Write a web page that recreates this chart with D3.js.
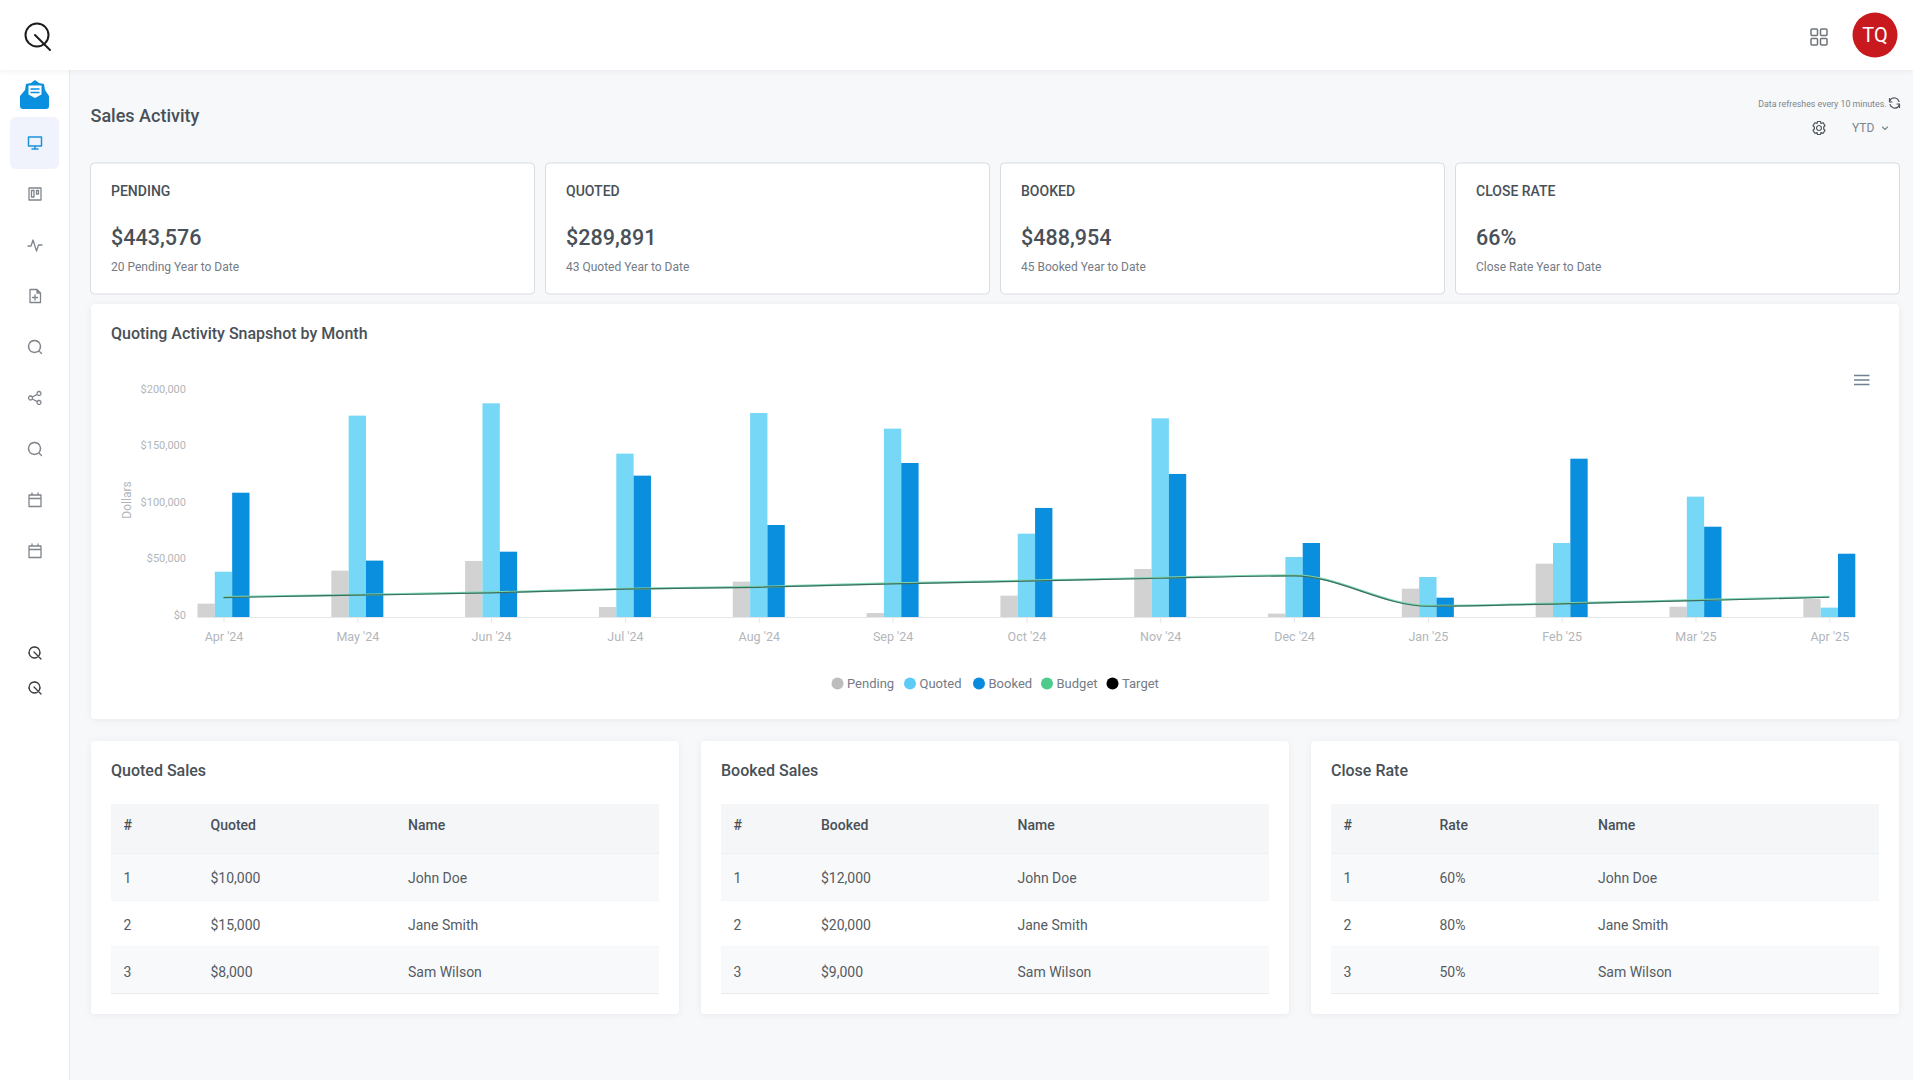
<!DOCTYPE html>
<html>
<head>
<meta charset="utf-8">
<title>Sales Activity</title>
<script src="https://cdn.jsdelivr.net/npm/d3@7"></script>
<style>
    html, body { margin: 0; padding: 0; background: #f6f8fa; overflow: hidden; }
    svg { display: block; font-family: Roboto, sans-serif; }
    .card-shadow { filter: drop-shadow(0 1px 3px rgba(60, 70, 90, 0.08)); }
    .axis path, .axis line { stroke: #e4e7ea; }
    .axis text { fill: #b2b6ba; font-family: Roboto, sans-serif; font-size: 11px; font-weight: 400; }
    .x-axis text { font-size: 12.5px; }
</style>
</head>
<body>
<svg id="page" width="1913" height="1080"></svg>
<script>
const months = ["Apr '24", "May '24", "Jun '24", "Jul '24", "Aug '24", "Sep '24", "Oct '24", "Nov '24", "Dec '24", "Jan '25", "Feb '25", "Mar '25", "Apr '25"];
const pending = [11800, 41000, 49600, 8850, 31300, 3500, 18900, 42500, 3000, 25100, 47200, 9100, 15900];
const quoted = [40100, 178200, 189100, 144600, 180500, 166700, 73750, 175800, 53100, 35400, 65500, 106500, 8300];
const booked = [110000, 49900, 57800, 125100, 81400, 136300, 96500, 126600, 65500, 17100, 140100, 79900, 56000];
const budget = [17700, 19800, 21800, 25100, 26800, 29800, 32200, 34800, 36900, 10000, 12100, 15000, 18000];
const target = [17200, 19300, 21300, 24600, 26300, 29300, 31700, 34300, 36400, 9500, 11600, 14500, 17500];
const yTicks = [0, 50000, 100000, 150000, 200000];

const barSeries = ["Pending", "Quoted", "Booked"];
const legendNames = ["Pending", "Quoted", "Booked", "Budget", "Target"];

const kpiTitles = ["PENDING", "QUOTED", "BOOKED", "CLOSE RATE"];
const kpiValues = ["$443,576", "$289,891", "$488,954", "66%"];
const kpiNotes = ["20 Pending Year to Date", "43 Quoted Year to Date", "45 Booked Year to Date", "Close Rate Year to Date"];

const rowNames = ["John Doe", "Jane Smith", "Sam Wilson"];
const quotedSales = ["$10,000", "$15,000", "$8,000"];
const bookedSales = ["$12,000", "$20,000", "$9,000"];
const closeRates = ["60%", "80%", "50%"];

const barColor = d3.scaleOrdinal().domain(barSeries).range(["#d2d2d2", "#76d7f7", "#0a8fde"]);
const legendColor = d3.scaleOrdinal().domain(legendNames).range(["#bdbdbd", "#5ccbf5", "#078bdd", "#4dcb8c", "#000000"]);

const svg = d3.select("#page");
const textDark = "#495057";
const textBody = "#555b63";
const textMuted = "#747b86";
const iconGrey = "#80858c";

function addText(elem, x, y, str, size, weight, fill, anchor = "start") {
    return elem.append("text")
        .attr("x", x)
        .attr("y", y)
        .attr("dy", "0.35em")
        .attr("text-anchor", anchor)
        .style("font-size", size + "px")
        .style("font-weight", weight)
        .style("fill", fill)
        .text(str);
}

function addCard(x, y, w, h, bordered) {
    svg.append("rect")
        .attr("class", bordered ? null : "card-shadow")
        .attr("x", x).attr("y", y)
        .attr("width", w).attr("height", h)
        .attr("rx", 4)
        .attr("fill", "#fff")
        .attr("stroke", bordered ? "#d9dce0" : "none");
}

// Icons are stroked paths in a 16x16 box centred on cx, cy
function addIcon(cx, cy, d, color = iconGrey, width = 1.3) {
    svg.append("path")
        .attr("transform", `translate(${cx - 8},${cy - 8})`)
        .attr("d", d)
        .attr("fill", "none")
        .attr("stroke", color)
        .attr("stroke-width", width)
        .attr("stroke-linecap", "round")
        .attr("stroke-linejoin", "round");
}

function drawChrome() {
    svg.append("rect").attr("width", 1913).attr("height", 1080).attr("fill", "#f6f8fa");

    svg.append("rect").attr("x", 0).attr("y", 0).attr("width", 69).attr("height", 1080).attr("fill", "#fff");
    svg.append("line").attr("x1", 69.5).attr("x2", 69.5).attr("y1", 70).attr("y2", 1080).attr("stroke", "#e9ecef");

    svg.append("rect").attr("class", "card-shadow").attr("width", 1913).attr("height", 70).attr("fill", "#fff");

    // logo
    svg.append("circle").attr("cx", 37).attr("cy", 35).attr("r", 11.5)
        .attr("fill", "none").attr("stroke", "#1c1c1f").attr("stroke-width", 2);
    svg.append("line").attr("x1", 35).attr("y1", 35).attr("x2", 50).attr("y2", 50)
        .attr("stroke", "#1c1c1f").attr("stroke-width", 2).attr("stroke-linecap", "round");

    // mail icon
    svg.append("path")
        .attr("d", "M20 96 L25 90 L26 84 L31 83 L35 80 L39 83 L44 84 L45 90 L49 96 L49 106 Q49 109 46 109 L23 109 Q20 109 20 106 Z")
        .attr("fill", "#0b8fdf");
    svg.append("path").attr("d", "M28.5 85.5 L41.5 85.5 L41.5 94.5 L35 98 L28.5 94.5 Z").attr("fill", "#fff");
    svg.append("path").attr("d", "M30.5 89 L39.5 89 M30.5 92.5 L39.5 92.5").attr("stroke", "#0b8fdf").attr("stroke-width", 1.5);

    svg.append("rect").attr("x", 10).attr("y", 117).attr("width", 49).attr("height", 52).attr("rx", 6).attr("fill", "#f1f3fc");

    const search = "M7.5 1.5 a6 6 0 1 0 0.01 0 M12 12 L14.5 14.5";
    const qMark = "M7.5 2 a5.5 5.5 0 1 0 0.01 0 M7 7 L14 14";
    const calendar = "M2 3 H14 V14.5 H2 Z M2 6.5 H14 M5 1 V3 M11 1 V3";
    addIcon(35, 143, "M1.5 2 H14.5 V11 H1.5 Z M8 11 V14 M5 14 H11", "#1b93dc", 1.5);
    addIcon(35, 194, "M2 2 H14 V14 H2 Z M4.5 4.5 H7 V11 H4.5 Z M9.5 4.5 H11.5 V8 H9.5 Z");
    addIcon(35, 245, "M1 9 H4 L6 3 L9.5 14 L11.5 8 H15");
    addIcon(35, 296, "M3 1.5 H10 L13.5 5 V14.5 H3 Z M10 1.5 V5 H13.5 M8 7 V12 M5.5 9.5 H10.5");
    addIcon(35, 347, search);
    addIcon(35, 398, "M5.3 7 L10.2 4.4 M5.3 9 L10.2 11.6 M3.5 6 a2 2 0 1 0 0.01 0 M12 1.5 a2 2 0 1 0 0.01 0 M12 10.5 a2 2 0 1 0 0.01 0");
    addIcon(35, 449, search);
    addIcon(35, 500, calendar);
    addIcon(35, 551, calendar);
    addIcon(35, 653, qMark, "#3a3d42");
    addIcon(35, 688, qMark, "#3a3d42");

    // top right
    [1811, 1820.5].forEach(x => [29, 38.5].forEach(y => {
        svg.append("rect").attr("x", x).attr("y", y).attr("width", 6.5).attr("height", 6.5).attr("rx", 1)
            .attr("fill", "none").attr("stroke", "#70757c").attr("stroke-width", 1.5);
    }));
    svg.append("circle").attr("cx", 1875).attr("cy", 35).attr("r", 22.5).attr("fill", "#c8191f");
    addText(svg, 1875, 35, "TQ", 20, 400, "#fff", "middle");

    addText(svg, 90.5, 115.5, "Sales Activity", 18, 500, textDark);
    addText(svg, 1886.5, 104, "Data refreshes every 10 minutes.", 8.8, 400, "#7e848c", "end");
    addIcon(1894.5, 103, "M12.5 6.5 A5 5 0 0 0 4 4.5 L3 7 M3.5 9.5 A5 5 0 0 0 12 11.5 L13 9 M3 3.5 V7 H5.5 M13 12.5 V9 H10.5", "#50555c", 1.2);
    addIcon(1819, 128, "M8 5.5 a2.5 2.5 0 1 0 0.01 0 M6.5 1.5 H9.5 L10 3.5 L12 2.7 L14 5.5 L12.7 7 V9 L14 10.5 L12 13.3 L10 12.5 L9.5 14.5 H6.5 L6 12.5 L4 13.3 L2 10.5 L3.3 9 V7 L2 5.5 L4 2.7 L6 3.5 Z", "#50555c", 1.2);
    addText(svg, 1852, 128, "YTD", 12, 400, "#7e848c");
    addIcon(1885, 128, "M5.5 7 L8 9.5 L10.5 7", "#7e848c", 1.1);
}

function drawKpis() {
    const cardX = d3.scaleBand().domain(kpiTitles).range([90.5, 90.5 + 455 * 4]);
    kpiTitles.forEach((title, i) => {
        const x = cardX(title);
        addCard(x, 163, 444, 131, true);
        addText(svg, x + 20.5, 191, title, 14, 500, textDark);
        addText(svg, x + 20.5, 237, kpiValues[i], 21.5, 500, textDark);
        addText(svg, x + 20.5, 267, kpiNotes[i], 12, 400, textMuted);
    });
}

function drawChart() {
    addCard(91, 304, 1808, 415, false);
    addText(svg, 111, 333, "Quoting Activity Snapshot by Month", 16, 500, textDark);

    const x = d3.scalePoint().domain(months).range([223.5, 1829.3]);
    const y = d3.scaleLinear().domain([0, 200000]).range([617, 391]);
    const inner = d3.scaleBand().domain(barSeries).range([-26, 26]);
    const chart = svg.append("g");

    const rows = [pending, quoted, booked];
    barSeries.forEach((name, s) => {
        chart.append("g").selectAll("rect")
            .data(rows[s])
            .join("rect")
            .attr("x", (d, i) => x(months[i]) + inner(name))
            .attr("y", d => y(d))
            .attr("width", inner.bandwidth())
            .attr("height", d => y(0) - y(d))
            .attr("fill", barColor(name));
    });

    chart.append("line")
        .attr("x1", x(months[0]) + inner.range()[0])
        .attr("x2", x(months[months.length - 1]) + inner.range()[1])
        .attr("y1", y(0) + 0.5).attr("y2", y(0) + 0.5)
        .attr("stroke", "#e4e7ea");

    const line = d3.line()
        .x((d, i) => x(months[i]))
        .y(d => y(d))
        .curve(d3.curveMonotoneX);
    chart.append("path").datum(budget).attr("d", line)
        .attr("fill", "none").attr("stroke", "#7ad6ae").attr("stroke-width", 2);
    chart.append("path").datum(target).attr("d", line)
        .attr("fill", "none").attr("stroke", "#3d6e62").attr("stroke-width", 1.2);

    const xAxis = d3.axisBottom(x).tickSize(5).tickPadding(9);
    chart.append("g").attr("class", "axis x-axis")
        .attr("transform", `translate(0,${y(0) + 1})`)
        .call(xAxis)
        .call(g => g.select(".domain").remove());

    const yAxis = d3.axisLeft(y).tickValues(yTicks).tickSize(0).tickPadding(0).tickFormat(d3.format("$,"));
    chart.append("g").attr("class", "axis y-axis")
        .attr("transform", "translate(186,0)")
        .call(yAxis)
        .call(g => g.select(".domain").remove())
        .call(g => g.selectAll("text").attr("dy", "0.12em"));

    chart.append("text")
        .attr("transform", "translate(127,500) rotate(-90)")
        .attr("dy", "0.35em")
        .attr("text-anchor", "middle")
        .style("font-size", "12px").style("font-weight", 400).style("fill", "#b2b6ba")
        .text("Dollars");

    // hamburger
    chart.append("path").attr("d", "M1854 375.5 H1869.5 M1854 380 H1869.5 M1854 384.5 H1869.5")
        .attr("stroke", "#6e8192").attr("stroke-width", 1.6);

    const legendX = [837.5, 910, 979, 1047, 1112.5];
    legendNames.forEach((name, i) => {
        svg.append("circle").attr("cx", legendX[i]).attr("cy", 683.5).attr("r", 6).attr("fill", legendColor(name));
        addText(svg, legendX[i] + 9.5, 683.5, name, 13, 400, textMuted);
    });
}

function drawTable(cardX, cardW, title, header, values, colX) {
    addCard(cardX, 741, cardW, 273, false);
    addText(svg, cardX + 20, 770, title, 16, 500, textDark);

    const tableX = cardX + 20;
    const tableW = cardW - 40;
    const edges = [804, 854, 900.5, 947, 993.5];
    const fills = ["#f4f6f8", "#f8f9fa", "#fff", "#f8f9fa"];
    fills.forEach((fill, i) => {
        svg.append("rect").attr("x", tableX).attr("y", edges[i]).attr("width", tableW)
            .attr("height", edges[i + 1] - edges[i]).attr("fill", fill);
        svg.append("line").attr("x1", tableX).attr("x2", tableX + tableW)
            .attr("y1", edges[i + 1]).attr("y2", edges[i + 1]).attr("stroke", "#e9ecef");
    });

    const headY = 825;
    addText(svg, colX[0], headY, "#", 14, 500, textDark);
    addText(svg, colX[1], headY, header, 14, 500, textDark);
    addText(svg, colX[2], headY, "Name", 14, 500, textDark);

    const rowY = [878.5, 925, 972];
    rowNames.forEach((name, i) => {
        addText(svg, colX[0], rowY[i], String(i + 1), 14, 400, textBody);
        addText(svg, colX[1], rowY[i], values[i], 14, 400, textBody);
        addText(svg, colX[2], rowY[i], name, 14, 400, textBody);
    });
}

drawChrome();
drawKpis();
drawChart();
drawTable(91, 588, "Quoted Sales", "Quoted", quotedSales, [123.5, 210.5, 408]);
drawTable(701, 588, "Booked Sales", "Booked", bookedSales, [733.5, 821, 1017.5]);
drawTable(1311, 588, "Close Rate", "Rate", closeRates, [1343.5, 1439.5, 1598]);
</script>
</body>
</html>
